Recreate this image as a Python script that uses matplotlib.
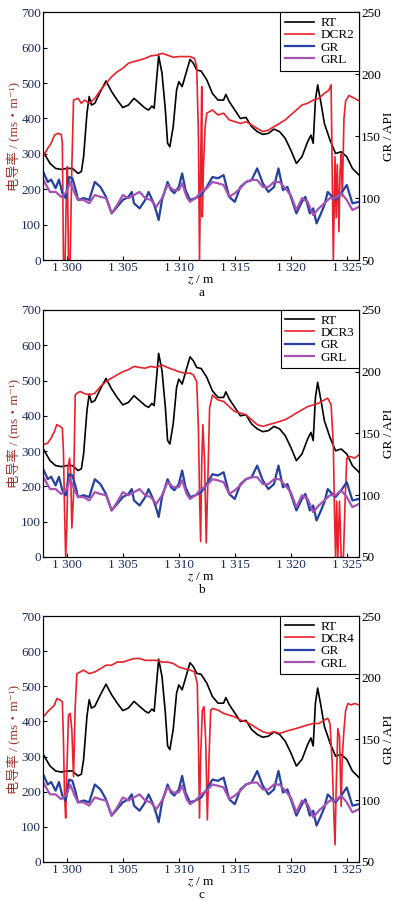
import matplotlib
matplotlib.use("Agg")
import matplotlib.pyplot as plt

plt.rcParams["mathtext.fontset"] = "stix"

# depth axis (m)
xticks = [1300, 1305, 1310, 1315, 1320, 1325]
xtick_labels = ["1 300", "1 305", "1 310", "1 315", "1 320", "1 325"]

# RT (same in every panel), left axis units
rt_z = [1297.9, 1298.5, 1299, 1299.5, 1300, 1300.5, 1301, 1301.3, 1301.5, 1301.8,
        1302, 1302.2, 1302.5, 1303, 1303.5, 1304, 1304.5, 1305, 1305.5, 1306,
        1306.5, 1307, 1307.3, 1307.6, 1307.8, 1308.2, 1308.5, 1308.8, 1309, 1309.2,
        1309.5, 1309.8, 1310, 1310.3, 1310.6, 1311, 1311.3, 1311.6, 1312, 1312.5,
        1313, 1313.5, 1314, 1314.2, 1314.5, 1315, 1315.5, 1316, 1316.5, 1317,
        1317.5, 1318, 1318.5, 1319, 1319.5, 1320, 1320.5, 1321, 1321.5, 1321.8,
        1322, 1322.2, 1322.4, 1322.7, 1323, 1323.5, 1324, 1324.5, 1325, 1325.5, 1326.1]
rt = [306, 273, 259, 256, 259, 259, 245, 250, 292, 415,
      462, 438, 443, 476, 506, 476, 452, 431, 438, 457,
      443, 429, 424, 435, 429, 577, 528, 424, 330, 320,
      377, 480, 504, 490, 523, 567, 556, 537, 534, 509,
      471, 452, 452, 468, 448, 424, 400, 403, 377, 363,
      355, 358, 370, 363, 344, 311, 273, 292, 334, 353,
      330, 452, 495, 443, 386, 339, 301, 306, 292, 259, 240]

# GR and GRL (same in every panel), API
gr_z = [1297.9, 1298.3, 1298.6, 1299, 1299.3, 1299.6, 1299.9, 1300.2, 1300.5, 1300.8,
        1301, 1301.5, 1302, 1302.5, 1303, 1303.5, 1304, 1304.5, 1305, 1305.5,
        1305.8, 1306, 1306.5, 1307, 1307.3, 1307.7, 1308, 1308.2, 1308.5, 1309,
        1309.3, 1309.6, 1310, 1310.3, 1310.6, 1311, 1311.5, 1312, 1312.5, 1313,
        1313.5, 1314, 1314.5, 1315, 1315.5, 1316, 1316.5, 1317, 1317.5, 1318,
        1318.5, 1318.9, 1319.3, 1319.7, 1320, 1320.5, 1321, 1321.3, 1321.7, 1322,
        1322.3, 1322.7, 1323, 1323.3, 1323.7, 1324, 1324.5, 1325, 1325.5, 1326.1]
gr = [121, 113, 115, 108, 115, 104, 100, 117, 116, 106.5,
      98.5, 100, 98.5, 113, 109, 101, 87.7, 93, 98.5, 101,
      105, 95.8, 91.7, 98.5, 105, 97, 89, 82.3, 98.5, 113,
      106.5, 104, 109, 120, 106.5, 98.5, 100, 102.5, 109, 117,
      116, 118.6, 101, 97, 109, 113, 114.6, 124, 112, 105,
      109, 124, 106.5, 109, 101, 87.7, 97, 101, 87.7, 91.7,
      79.6, 87.7, 94.4, 105, 101, 98.5, 104, 110.6, 95.8, 97]

grl_z = [1297.9, 1298.5, 1299, 1299.5, 1300, 1300.3, 1300.7, 1301, 1301.5, 1302,
         1302.5, 1303, 1303.5, 1304, 1304.5, 1305, 1305.5, 1306, 1306.5, 1307,
         1307.5, 1308, 1308.5, 1309, 1309.5, 1310, 1310.3, 1310.7, 1311, 1311.5,
         1312, 1312.5, 1313, 1313.5, 1314, 1314.5, 1315, 1315.5, 1316, 1316.5,
         1317, 1317.5, 1318, 1318.5, 1319, 1319.5, 1320, 1320.5, 1321, 1321.5,
         1322, 1322.5, 1323, 1323.5, 1324, 1324.5, 1325, 1325.5, 1326.1]
grl = [114.6, 105, 105, 101, 105, 113, 104, 98.5, 98.5, 95.8,
       102.5, 101, 100, 87.7, 94.4, 102.5, 100, 102.5, 105, 100,
       98.5, 93, 100, 110.6, 106.5, 106.5, 112, 101, 97, 100,
       105, 108, 113, 112, 110.6, 101, 104, 108, 113, 114.6,
       114.6, 109, 109, 113, 113, 108, 102.5, 90.4, 100, 97,
       86.3, 91.7, 95.8, 100, 100, 104, 98.5, 90.4, 93]

# DCR2 (panel a)
dcr2_z = [1297.9, 1298.3, 1298.6, 1298.9, 1299.2, 1299.5, 1299.6, 1299.7, 1299.85, 1299.95,
          1300.05, 1300.15, 1300.3, 1300.45, 1300.6, 1301, 1301.3, 1301.6, 1302, 1302.5,
          1303, 1303.5, 1304, 1304.5, 1305, 1305.5, 1306, 1306.5, 1307, 1307.5,
          1308, 1308.5, 1309, 1309.5, 1310, 1310.5, 1311, 1311.4, 1311.6, 1311.75,
          1311.85, 1311.95, 1312.05, 1312.1, 1312.2, 1312.35, 1312.5, 1313, 1313.5, 1314,
          1314.5, 1315, 1315.5, 1316, 1316.5, 1317, 1317.5, 1318, 1318.5, 1319,
          1319.5, 1320, 1320.5, 1321, 1321.5, 1322, 1322.5, 1323, 1323.4, 1323.6,
          1323.8, 1323.95, 1324.05, 1324.15, 1324.3, 1324.4, 1324.5, 1324.6, 1324.75, 1324.9,
          1325.2, 1325.5, 1325.8, 1326.1]
dcr2 = [292, 316, 330, 353, 358, 355, 330, 0, 0, 170,
        264, 0, 0, 264, 452, 457, 443, 452, 443, 457,
        480, 499, 518, 532, 542, 556, 561, 565, 570, 577,
        579, 584, 579, 573, 575, 575, 575, 570, 546, 358,
        0, 264, 490, 122, 264, 377, 415, 424, 410, 415,
        396, 391, 386, 391, 382, 372, 363, 367, 377, 386,
        396, 410, 424, 438, 443, 452, 457, 471, 480, 495,
        0, 292, 120, 270, 80, 250, 300, 180, 400, 450,
        465, 460, 455, 450]

# DCR3 (panel b)
dcr3_z = [1297.9, 1298.3, 1298.6, 1298.9, 1299.1, 1299.4, 1299.6, 1299.7, 1299.8, 1299.9,
          1300.0, 1300.1, 1300.25, 1300.35, 1300.45, 1300.6, 1300.75, 1300.9, 1301.2, 1301.5,
          1302, 1302.5, 1303, 1303.5, 1304, 1304.5, 1305, 1305.5, 1306, 1306.5,
          1307, 1307.5, 1308, 1308.5, 1309, 1309.5, 1310, 1310.5, 1311, 1311.3,
          1311.6, 1311.75, 1311.85, 1311.95, 1312.05, 1312.15, 1312.3, 1312.45, 1312.6, 1312.75,
          1313, 1313.5, 1314, 1314.5, 1315, 1315.5, 1316, 1316.5, 1317, 1317.5,
          1318, 1318.5, 1319, 1319.5, 1320, 1320.5, 1321, 1321.5, 1322, 1322.5,
          1323, 1323.3, 1323.6, 1323.8, 1323.9, 1324.0, 1324.1, 1324.2, 1324.35, 1324.5,
          1324.7, 1324.85, 1325, 1325.3, 1325.7, 1326.1]
dcr3 = [318, 323, 337, 356, 375, 370, 365, 299, 129, 0,
        82, 252, 280, 233, 82, 176, 459, 464, 469, 464,
        459, 464, 483, 497, 507, 516, 525, 531, 540, 537,
        535, 540, 537, 544, 537, 531, 525, 521, 521, 516,
        497, 365, 176, 44, 271, 375, 271, 40, 224, 422,
        459, 445, 441, 426, 412, 408, 403, 389, 375, 370,
        375, 379, 384, 389, 398, 408, 417, 426, 431, 436,
        445, 450, 431, 318, 129, 0, 158, 0, 158, 0,
        0, 158, 280, 285, 280, 290]

# DCR4 (panel c)
dcr4_z = [1297.9, 1298.3, 1298.6, 1298.9, 1299.1, 1299.4, 1299.6, 1299.7, 1299.8, 1299.9,
          1300.0, 1300.15, 1300.3, 1300.45, 1300.6, 1300.75, 1300.9, 1301.2, 1301.5, 1302,
          1302.5, 1303, 1303.5, 1304, 1304.5, 1305, 1305.5, 1306, 1306.5, 1307,
          1307.5, 1308, 1308.5, 1309, 1309.5, 1310, 1310.5, 1311, 1311.4, 1311.65,
          1311.75, 1311.85, 1311.95, 1312.1, 1312.25, 1312.4, 1312.55, 1312.7, 1312.85, 1313,
          1313.5, 1314, 1314.5, 1315, 1315.5, 1316, 1316.5, 1317, 1317.5, 1318,
          1318.5, 1319, 1319.5, 1320, 1320.5, 1321, 1321.5, 1322, 1322.5, 1323,
          1323.3, 1323.5, 1323.7, 1323.85, 1323.95, 1324.05, 1324.2, 1324.35, 1324.5, 1324.6,
          1324.75, 1324.9, 1325.1, 1325.4, 1325.7, 1326.1]
dcr4 = [413, 428, 437, 447, 465, 461, 456, 347, 186, 125,
        253, 418, 423, 376, 243, 442, 536, 541, 546, 536,
        541, 550, 560, 560, 569, 569, 574, 579, 579, 574,
        574, 574, 569, 569, 565, 555, 550, 546, 541, 508,
        347, 125, 300, 432, 442, 347, 120, 300, 432, 437,
        432, 423, 418, 413, 404, 399, 390, 380, 371, 366,
        371, 366, 371, 376, 380, 385, 390, 394, 394, 404,
        409, 394, 281, 130, 49, 205, 380, 357, 158, 300,
        376, 432, 451, 447, 451, 447]

panels = [("a", "DCR2", dcr2_z, dcr2),
          ("b", "DCR3", dcr3_z, dcr3),
          ("c", "DCR4", dcr4_z, dcr4)]

# axes boxes in figure fraction: left, bottom, width, height
boxes = [[0.1085, 0.7114, 0.7915, 0.2749],
         [0.1085, 0.3818, 0.7915, 0.2742],
         [0.1085, 0.0433, 0.7915, 0.2730]]

serif = ["Liberation Serif", "Noto Sans CJK SC", "DejaVu Sans"]
navy = "#1c2a5c"
fs = 9.5

fig = plt.figure(figsize=(3.99, 9.01), dpi=100)

for (tag, name, dz, dv), box in zip(panels, boxes):
    ax = fig.add_axes(box)
    ax2 = ax.twinx()

    l_rt, = ax.plot(rt_z, rt, color="black", lw=1.2, label="RT")
    l_dcr, = ax.plot(dz, dv, color="#e8212b", lw=1.2, label=name)
    l_gr, = ax2.plot(gr_z, gr, color="#2441a0", lw=1.6, label="GR")
    l_grl, = ax2.plot(grl_z, grl, color="#a552b5", lw=1.6, label="GRL")

    ax.set_xlim(1297.9, 1326.1)
    ax.set_ylim(0, 700)
    ax2.set_ylim(50, 250)
    ax.set_yticks(range(0, 701, 100))
    ax2.set_yticks(range(50, 251, 50))
    ax.set_xticks(xticks)
    ax.set_xticklabels(xtick_labels)

    ax.tick_params(direction="in", length=3, labelsize=fs, labelcolor=navy,
                   color="black", pad=1.5)
    ax2.tick_params(direction="in", length=3, labelsize=fs, labelcolor="black", pad=1.5)
    for t in ax.get_xticklabels() + ax.get_yticklabels() + ax2.get_yticklabels():
        t.set_family(serif)

    ax.set_ylabel("电导率 / (ms・m⁻¹)", color="#9c3327", fontsize=fs,
                  family=serif, labelpad=1)
    ax2.set_ylabel("GR / API", fontsize=fs, family=serif, labelpad=1)
    ax.set_xlabel("$z$ / m\n" + tag, fontsize=fs, family=serif, labelpad=0,
                  linespacing=1.0)

    leg = ax2.legend([l_rt, l_dcr, l_gr, l_grl], ["RT", name, "GR", "GRL"],
                     loc="upper right", prop={"family": serif, "size": fs},
                     frameon=True, fancybox=False, framealpha=1, edgecolor="black",
                     borderaxespad=0, handlelength=2.2, handletextpad=0.5,
                     labelspacing=0.0, borderpad=0.35)
    leg.get_frame().set_linewidth(0.8)

fig.savefig("out.png", dpi=100)
